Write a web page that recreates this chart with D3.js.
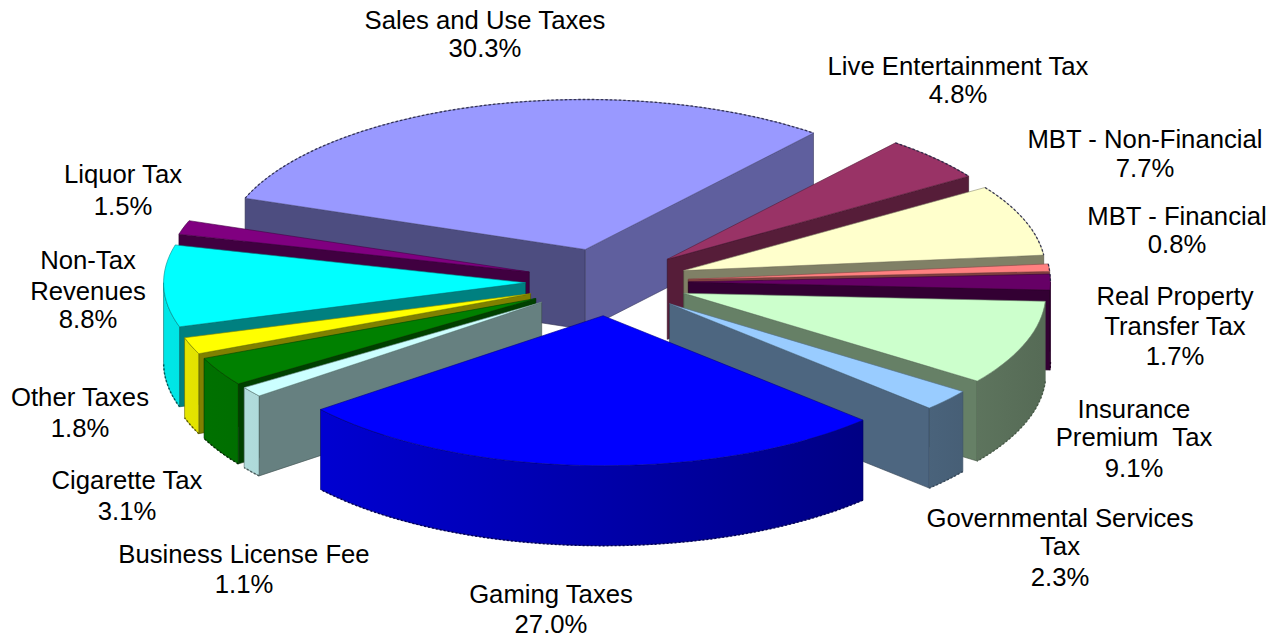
<!DOCTYPE html>
<html>
<head>
<meta charset="utf-8">
<script src="https://cdn.jsdelivr.net/npm/d3@7"></script>
<style>
  html, body { margin: 0; padding: 0; background: #fff; }
  text { font-family: "Liberation Sans", Arial, sans-serif; font-size: 25.7px; fill: #000; text-anchor: middle; }
</style>
</head>
<body>
<div id="pieContainer"></div>
<script>
// values go clockwise, starting from the big slice at the back
var categories = ["Sales and Use Taxes", "Live Entertainment Tax", "MBT - Non-Financial", "MBT - Financial",
  "Real Property Transfer Tax", "Insurance Premium Tax", "Governmental Services Tax", "Gaming Taxes",
  "Business License Fee", "Cigarette Tax", "Other Taxes", "Non-Tax Revenues", "Liquor Tax"];
var shares = [30.3, 4.8, 7.7, 0.8, 1.7, 9.1, 2.3, 27.0, 1.1, 3.1, 1.8, 8.8, 1.5];
var sliceColors = ["#9999ff", "#993366", "#ffffcc", "#ff8080", "#660066", "#ccffcc", "#99ccff",
  "#0000ff", "#ccffff", "#008000", "#ffff00", "#00ffff", "#800080"];
var labelLines = [["Sales and Use Taxes"], ["Live Entertainment Tax"], ["MBT - Non-Financial"], ["MBT - Financial"],
  ["Real Property", "Transfer Tax"], ["Insurance", "Premium\u00a0 Tax"], ["Governmental Services", "Tax"], ["Gaming Taxes"],
  ["Business License Fee"], ["Cigarette Tax"], ["Other Taxes"], ["Non-Tax", "Revenues"], ["Liquor Tax"]];
// where each label block sits: centre x and the baseline of every line
var labelSpots = [[485, [29, 57]], [958, [75, 103]], [1145, [148, 177]], [1177, [225, 253]],
  [1175, [305, 335, 365]], [1134, [418, 446, 477]], [1060, [527, 555, 586]], [551, [603, 633]],
  [244, [563, 593]], [127, [489, 520]], [80, [406, 437]], [88, [269, 300, 328]], [123, [183, 215]]];

var width = 1279, height = 638;
var explode = 0.225, depth = 80;
var rad = Math.PI / 180;

var svg = d3.select("#pieContainer").append("svg")
  .attr("width", width).attr("height", height)
  .style("display", "block");
var defs = svg.append("defs");

var x = d3.scaleLinear().domain([-1, 1]).range([607 - 362, 607 + 362]);
var y = d3.scaleLinear().domain([-1, 1]).range([282 - 150, 282 + 150]);

var pie = d3.pie().sort(null).startAngle(-70 * rad).endAngle(290 * rad);
var slices = pie(shares).map(function (d, i) {
  d.index = i;
  d.mid = (d.startAngle + d.endAngle) / 2;
  d.ox = explode * Math.sin(d.mid);
  d.oy = -explode * Math.cos(d.mid);
  return d;
});

function shade(color, k) {
  var c = d3.rgb(color);
  return d3.rgb(c.r * k, c.g * k, c.b * k).formatHex();
}

// point on the rim of a slice, drop pushes it down to the floor of the pie
function rimPoint(d, a, drop) {
  return [x(d.ox + Math.sin(a)), y(d.oy - Math.cos(a)) + (drop || 0)];
}
function apex(d, drop) {
  return [x(d.ox), y(d.oy) + (drop || 0)];
}
function arcPoints(d, a0, a1, drop) {
  var n = Math.max(2, Math.ceil(Math.abs(a1 - a0) / (2 * rad)));
  return d3.range(n + 1).map(function (k) {
    return rimPoint(d, a0 + (a1 - a0) * k / n, drop);
  });
}
var line = d3.line();

function gradientFor(color, i) {
  var id = "rim" + i;
  var g = defs.append("linearGradient").attr("id", id)
    .attr("gradientUnits", "userSpaceOnUse")
    .attr("x1", x(-1.2)).attr("x2", x(1.2)).attr("y1", 0).attr("y2", 0);
  g.append("stop").attr("offset", 0).attr("stop-color", shade(color, 0.9));
  g.append("stop").attr("offset", 1).attr("stop-color", shade(color, 0.42));
  return "url(#" + id + ")";
}

function wall(g, d, a, k) {
  var pts = [apex(d), rimPoint(d, a), rimPoint(d, a, depth), apex(d, depth)];
  g.append("path").attr("d", line(pts) + "Z")
    .attr("fill", shade(sliceColors[d.index], k))
    .attr("stroke", shade(sliceColors[d.index], k * 0.6))
    .attr("stroke-width", 0.6);
}

// back slices first so the front ones paint over them
var order = slices.slice().sort(function (a, b) { return Math.cos(b.mid) - Math.cos(a.mid); });

order.forEach(function (d) {
  var color = sliceColors[d.index];
  var g = svg.append("g").attr("class", "slice");

  if (Math.sin(d.startAngle) < 0) wall(g, d, d.startAngle, 0.5);
  if (Math.sin(d.endAngle) > 0) {
    var c = Math.max(0, Math.cos(d.endAngle));
    wall(g, d, d.endAngle, 0.5 + 0.2 * c * c);
  }

  // outer side, only the part turned to the viewer
  var a0 = Math.max(d.startAngle, 90 * rad), a1 = Math.min(d.endAngle, 270 * rad);
  if (a1 > a0) {
    var top = arcPoints(d, a0, a1, 0), bottom = arcPoints(d, a1, a0, depth);
    g.append("path").attr("d", line(top.concat(bottom)) + "Z")
      .attr("fill", gradientFor(color, d.index))
      .attr("stroke", shade(color, 0.4)).attr("stroke-width", 0.6);
    g.append("path").attr("d", line(arcPoints(d, a0, a1, depth)))
      .attr("fill", "none").attr("stroke", shade(color, 0.35)).attr("stroke-width", 1.4)
      .attr("stroke-dasharray", "2 2");
  }

  var rim = arcPoints(d, d.startAngle, d.endAngle, 0);
  g.append("path").attr("d", line([apex(d)].concat(rim)) + "Z")
    .attr("fill", color)
    .attr("stroke", shade(color, 0.55)).attr("stroke-width", 0.6);
  // the jagged dark edge along the back of the pie
  var backA0 = Math.max(d.startAngle, -90 * rad), backA1 = Math.min(d.endAngle, 90 * rad);
  if (backA1 > backA0) {
    g.append("path").attr("d", line(arcPoints(d, backA0, backA1, 0)))
      .attr("fill", "none").attr("stroke", "#222244").attr("stroke-width", 1.3)
      .attr("stroke-dasharray", "2.5 2").attr("stroke-opacity", 0.85);
  }
});

var labels = svg.append("g").selectAll("text")
  .data(slices)
  .enter().append("text")
  .attr("x", function (d) { return labelSpots[d.index][0]; });

labels.each(function (d) {
  var spot = labelSpots[d.index];
  var rows = labelLines[d.index].concat([d3.format(".1f")(d.value) + "%"]);
  d3.select(this).selectAll("tspan").data(rows).enter().append("tspan")
    .attr("x", spot[0])
    .attr("y", function (r, k) { return spot[1][k]; })
    .text(function (r) { return r; });
});
</script>
</body>
</html>
